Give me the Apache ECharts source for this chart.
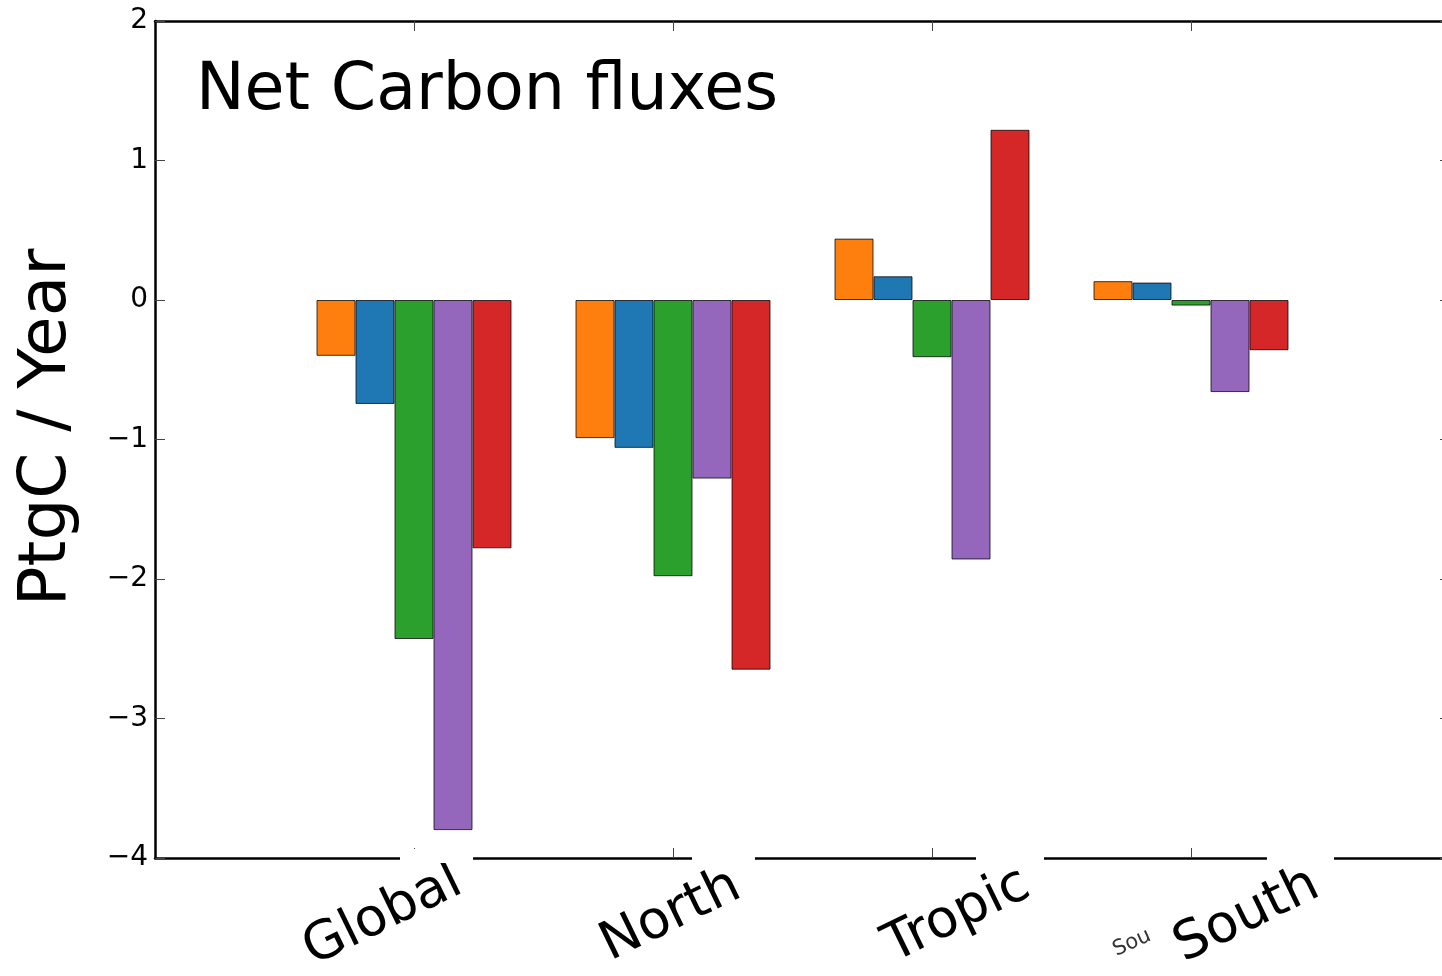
<!DOCTYPE html>
<html><head><meta charset="utf-8">
<script src="https://cdn.jsdelivr.net/npm/echarts@6/dist/echarts.min.js"></script>
<style>html,body{margin:0;padding:0;background:#fff}#c{width:1442px;height:976px}</style>
</head><body><div id="c"></div>
<script>
// ---- data ----
const categories = ['Global', 'North', 'Tropic', 'South'];
const seriesNames = ['Series 1', 'Series 2', 'Series 3', 'Series 4', 'Series 5'];
const orangeVals = [-0.40, -0.99, 0.44, 0.135];
const blueVals   = [-0.745, -1.06, 0.17, 0.125];
const greenVals  = [-2.43, -1.98, -0.41, -0.04];
const purpleVals = [-3.80, -1.28, -1.86, -0.66];
const redVals    = [-1.78, -2.65, 1.22, -0.36];
const yTicks = [-4, -3, -2, -1, 0, 1, 2];
const titleText = 'Net Carbon fluxes';
const yAxisTitle = 'PtgC / Year';
const strayLabel = 'Sou';

// ---- style ----
const FONT = 'DejaVu Sans';
const colors = ['#ff7f0e', '#1f77b4', '#2ca02c', '#9467bd', '#d62728'];
const allVals = [orangeVals, blueVals, greenVals, purpleVals, redVals];
const catIdx = categories.map((c, i) => i);
const labelShift = [-0.12, -0.008, 0.097, 0.216];
const labelPos = catIdx.map(i => i + labelShift[i]);
const minus = v => String(v).replace('-', '\u2212');

const chart = echarts.init(document.getElementById('c'));
const spine = { show: true, onZero: false, lineStyle: { color: '#000', width: 2.5 } };
const tickStyle = { show: true, inside: true, length: 10, lineStyle: { color: '#444', width: 1 } };

chart.setOption({
  animation: false,
  backgroundColor: '#fff',
  title: {
    text: titleText, left: 196, top: 60, padding: 0,
    textStyle: { fontFamily: FONT, fontSize: 65, fontWeight: 'normal', color: '#000' }
  },
  grid: { left: 155, top: 21, width: 1295, height: 837, containLabel: false, outerBoundsMode: 'none' },
  xAxis: [
    {
      type: 'value', position: 'bottom', min: -1, max: 4, interval: 1,
      axisLine: spine, splitLine: { show: false },
      axisTick: Object.assign({ customValues: catIdx }, tickStyle),
      axisLabel: {
        customValues: labelPos,
        formatter: v => categories[Math.round(v)] || '',
        rotate: 26, align: 'center', verticalAlign: 'middle', margin: 58,
        fontFamily: FONT, fontSize: 53, color: '#000'
      }
    },
    {
      type: 'value', position: 'top', min: -1, max: 4, interval: 1,
      axisLine: spine, splitLine: { show: false },
      axisTick: Object.assign({ customValues: catIdx }, tickStyle),
      axisLabel: { show: false }
    }
  ],
  yAxis: [
    {
      type: 'value', position: 'left', min: -4, max: 2, interval: 1,
      axisLine: spine, splitLine: { show: false }, axisTick: tickStyle,
      axisLabel: { formatter: v => minus(v), fontFamily: FONT, fontSize: 28, color: '#000', margin: 7 },
      name: yAxisTitle, nameLocation: 'middle', nameRotate: 90, nameGap: 74,
      nameTextStyle: { fontFamily: FONT, fontSize: 66, color: '#000', padding: [0, 0, 0, 24] }
    },
    {
      type: 'value', position: 'right', min: -4, max: 2, interval: 1,
      axisLine: spine, splitLine: { show: false }, axisTick: tickStyle,
      axisLabel: { show: false }
    }
  ],
  series: allVals.map((vals, s) => ({
    type: 'bar', name: seriesNames[s],
    xAxisIndex: 0, yAxisIndex: 0,
    barWidth: 39, barGap: '0%',
    itemStyle: { color: colors[s], borderColor: 'rgba(0,0,0,0.75)', borderWidth: 1 },
    data: vals.map((v, i) => [catIdx[i], v])
  })),
  graphic: [
    { type: 'rect', z: 100, shape: { x: 400, y: 849, width: 73, height: 14 }, style: { fill: '#fff' } },
    { type: 'rect', z: 100, shape: { x: 692, y: 852, width: 63, height: 12 }, style: { fill: '#fff' } },
    { type: 'rect', z: 100, shape: { x: 976, y: 852, width: 68, height: 12 }, style: { fill: '#fff' } },
    { type: 'rect', z: 100, shape: { x: 1267, y: 852, width: 67, height: 12 }, style: { fill: '#fff' } },
    { type: 'text', z: 100, x: 1132, y: 943, rotation: 0.42,
      style: { text: strayLabel, font: '21px "DejaVu Sans"', fill: '#333', align: 'center', verticalAlign: 'middle' } }
  ]
});
</script></body></html>
